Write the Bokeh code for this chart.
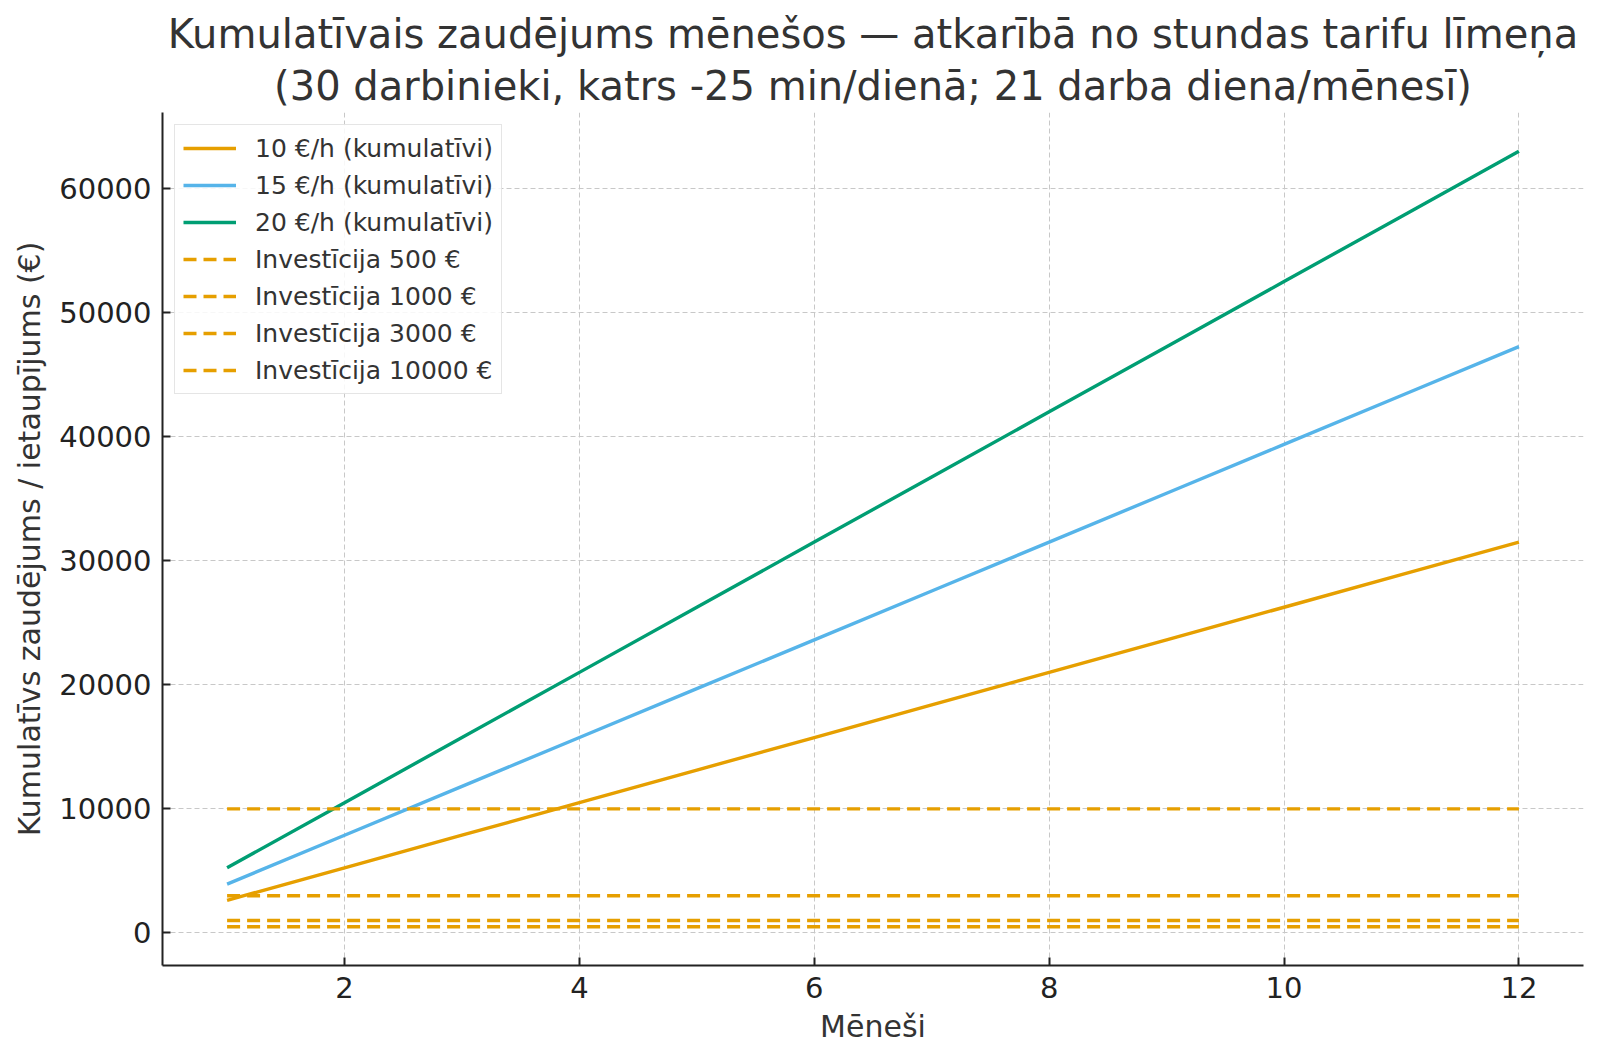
from bokeh.plotting import figure
from bokeh.models import Title, Legend, LegendItem, Range1d, FixedTicker
from bokeh.embed import file_html
from bokeh.resources import INLINE

months = [1, 2, 3, 4, 5, 6, 7, 8, 9, 10, 11, 12]
loss_10 = [2625, 5250, 7875, 10500, 13125, 15750, 18375, 21000, 23625, 26250, 28875, 31500]
loss_15 = [3937.5, 7875, 11812.5, 15750, 19687.5, 23625, 27562.5, 31500, 35437.5, 39375, 43312.5, 47250]
loss_20 = [5250, 10500, 15750, 21000, 26250, 31500, 36750, 42000, 47250, 52500, 57750, 63000]
series_labels = ["10 €/h (kumulatīvi)", "15 €/h (kumulatīvi)", "20 €/h (kumulatīvi)"]
series_colors = ["#E69F00", "#56B4E9", "#009E73"]
investments = [500, 1000, 3000, 10000]
inv_labels = ["Investīcija 500 €", "Investīcija 1000 €", "Investīcija 3000 €", "Investīcija 10000 €"]
x_ticks = [2, 4, 6, 8, 10, 12]
y_ticks = [0, 10000, 20000, 30000, 40000, 50000, 60000]
title_lines = ["Kumulatīvais zaudējums mēnešos — atkarībā no stundas tarifu līmeņa",
               "(30 darbinieki, katrs -25 min/dienā; 21 darba diena/mēnesī)"]

FONT = "DejaVu Sans"

p = figure(frame_width=1421, frame_height=853,
           min_border_left=162, min_border_right=9, min_border_top=112, min_border_bottom=86,
           output_backend="svg", toolbar_location=None,
           x_range=Range1d(0.45, 12.55), y_range=Range1d(-2625, 66125))
p.outline_line_color = None
p.background_fill_color = "white"
p.border_fill_color = "white"

# titles (second line added first so it sits closer to the frame)
t2 = Title(text=title_lines[1], align="center",
           text_font=FONT, text_font_size="40px", text_font_style="normal", text_color="#333333",
           standoff=8)
t1 = Title(text=title_lines[0], align="center",
           text_font=FONT, text_font_size="40px", text_font_style="normal", text_color="#333333",
           standoff=0)
p.add_layout(t2, "above")
p.add_layout(t1, "above")

items = []
for ys, lab, col in zip([loss_10, loss_15, loss_20], series_labels, series_colors):
    r = p.line(months, ys, line_color=col, line_width=3.4)
    items.append(LegendItem(label=lab, renderers=[r]))

for inv, lab in zip(investments, inv_labels):
    r = p.line([months[0], months[-1]], [inv, inv], line_color="#E69F00", line_width=3.4, line_dash="13 7")
    items.append(LegendItem(label=lab, renderers=[r]))

legend = Legend(items=items, location="top_left")
legend.margin = 12
legend.padding = 8
legend.spacing = 7
legend.glyph_width = 53
legend.glyph_height = 30
legend.label_height = 30
legend.label_standoff = 19
legend.label_text_font = FONT
legend.label_text_font_size = "25px"
legend.label_text_color = "#333333"
legend.border_line_color = "#cccccc"
legend.border_line_width = 1.5
legend.background_fill_color = "white"
legend.background_fill_alpha = 0.85
p.add_layout(legend)

for ax in (p.xaxis[0], p.yaxis[0]):
    ax.axis_line_color = "#222222"
    ax.axis_line_width = 2
    ax.major_tick_line_color = "#222222"
    ax.major_tick_line_width = 2
    ax.major_tick_in = 8
    ax.major_tick_out = 0
    ax.minor_tick_line_color = None
    ax.major_label_text_font = FONT
    ax.major_label_text_font_size = "29px"
    ax.major_label_text_color = "#222222"
    ax.axis_label_text_font = FONT
    ax.axis_label_text_font_size = "30px"
    ax.axis_label_text_font_style = "normal"
    ax.axis_label_text_color = "#333333"
    ax.major_label_standoff = 11

p.xaxis[0].ticker = FixedTicker(ticks=x_ticks)
p.yaxis[0].ticker = FixedTicker(ticks=y_ticks)
p.xaxis[0].axis_label = "Mēneši"
p.yaxis[0].axis_label = "Kumulatīvs zaudējums / ietaupījums (€)"
p.xaxis[0].axis_label_standoff = 8
p.yaxis[0].axis_label_standoff = 9
p.yaxis[0].major_label_orientation = "horizontal"

for g in (p.xgrid[0], p.ygrid[0]):
    g.grid_line_color = "#c8c8c8"
    g.grid_line_width = 1
    g.grid_line_dash = "5 3"
p.xgrid[0].ticker = FixedTicker(ticks=x_ticks)
p.ygrid[0].ticker = FixedTicker(ticks=y_ticks)

open("out.html", "w").write(file_html(p, INLINE))
